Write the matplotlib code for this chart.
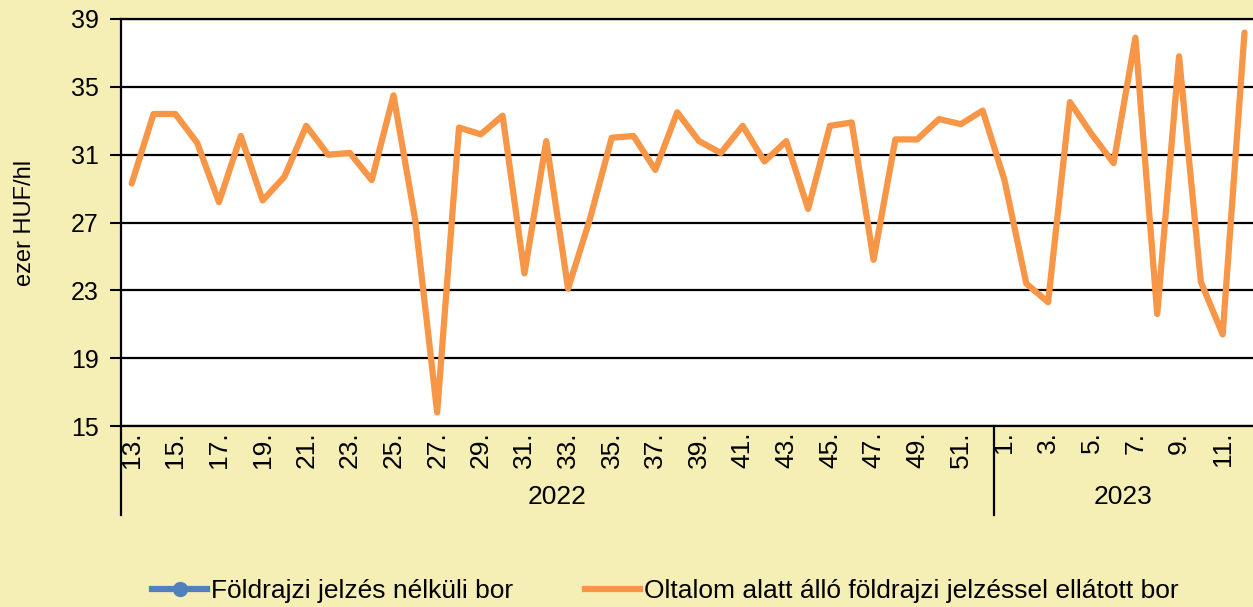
import matplotlib.pyplot as plt
from matplotlib.lines import Line2D

# weeks: 2022 week 13..52, 2023 week 1..12
weeks_2022 = list(range(13, 53))
weeks_2023 = list(range(1, 13))
week_labels = [f'{w}.' for w in weeks_2022] + [f'{w}.' for w in weeks_2023]

# Oltalom alatt álló földrajzi jelzéssel ellátott bor (ezer HUF/hl)
oltalom = [29.3, 33.4, 33.4, 31.7, 28.2, 32.1, 28.3, 29.7, 32.7, 31.0,
           31.1, 29.5, 34.5, 27.1, 15.8, 32.6, 32.2, 33.3, 24.0, 31.8,
           23.1, 27.2, 32.0, 32.1, 30.1, 33.5, 31.8, 31.1, 32.7, 30.6,
           31.8, 27.8, 32.7, 32.9, 24.8, 31.9, 31.9, 33.1, 32.8, 33.6,
           29.5, 23.4, 22.3, 34.1, 32.2, 30.5, 37.9, 21.6, 36.8, 23.5,
           20.4, 38.2]

yticks = [15, 19, 23, 27, 31, 35, 39]
years = ['2022', '2023']
series_names = ['Földrajzi jelzés nélküli bor',
                'Oltalom alatt álló földrajzi jelzéssel ellátott bor']

plt.rcParams['font.family'] = ['Liberation Sans', 'DejaVu Sans']

bg = '#F5EFB5'
blue = '#4F81BD'
orange = '#F79646'

fig = plt.figure(figsize=(12.53, 6.07), dpi=100)
fig.patch.set_facecolor(bg)
ax = fig.add_axes([121/1253, 1 - 426/607, 1 - 121/1253, 407/607])
ax.set_facecolor('white')

x = list(range(len(oltalom)))
ax.plot(x, oltalom, color=orange, lw=4.5, solid_joinstyle='round',
        solid_capstyle='round', zorder=3)

n22 = len(weeks_2022)
ax.set_xlim(-0.49, 51.39)
ax.set_ylim(15, 39)
ax.set_yticks(yticks)
ax.tick_params(axis='y', direction='out', length=8, width=1.5,
               labelsize=18, pad=8, color='black')
ax.yaxis.grid(True, color='black', lw=1.6)
ax.set_axisbelow(True)

tick_pos = [i for i in x if (i < n22 and i % 2 == 0) or (i >= n22 and (i - n22) % 2 == 0)]
ax.set_xticks(tick_pos)
ax.set_xticklabels([week_labels[i] for i in tick_pos], rotation=90,
                   fontsize=19, va='top', ha='center')
ax.tick_params(axis='x', length=0, pad=4)

ax.spines['right'].set_visible(False)
for s in ['left', 'bottom', 'top']:
    ax.spines[s].set_linewidth(1.6)
    ax.spines[s].set_color('black')

ax.set_ylabel('ezer HUF/hl', fontsize=17, labelpad=25)

# category group separators below the axis
tr = ax.get_xaxis_transform()
ax.plot([-0.49, -0.49], [0, -0.219], transform=tr, color='black', lw=1.6, clip_on=False)
ax.plot([n22 - 0.5, n22 - 0.5], [0, -0.219], transform=tr, color='black', lw=1.6, clip_on=False)
ax.text((-0.49 + n22 - 0.5) / 2, -0.175, years[0], transform=tr,
        ha='center', va='center', fontsize=19)
ax.text((n22 - 0.5 + 51.39) / 2, -0.175, years[1], transform=tr,
        ha='center', va='center', fontsize=19)

handles = [Line2D([], [], color=blue, lw=4.5, marker='o', markersize=10),
           Line2D([], [], color=orange, lw=4.5)]
fig.legend(handles, series_names, loc='center left', bbox_to_anchor=(152/1253, 0.026),
           ncol=2, frameon=False, fontsize=19, handlelength=2.1, handletextpad=0.15,
           columnspacing=2.7, borderpad=0, borderaxespad=0)

plt.savefig('out.png', dpi=100, facecolor=bg)
